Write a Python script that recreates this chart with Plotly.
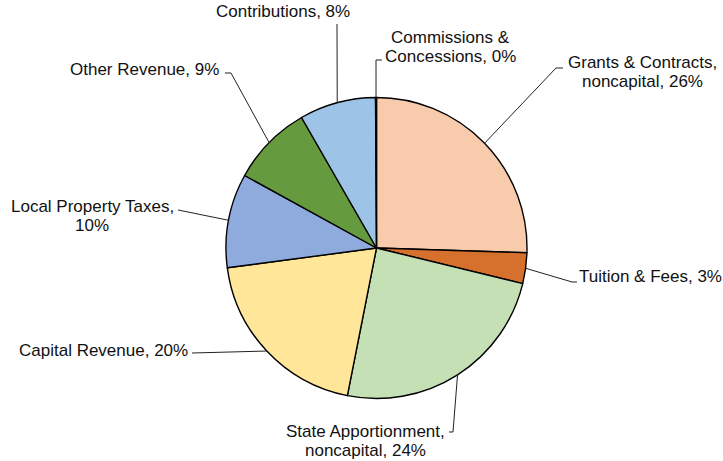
import math
import plotly.graph_objects as go

# ---- data ----
labels = ["Grants & Contracts, noncapital", "Tuition & Fees", "State Apportionment, noncapital",
          "Capital Revenue", "Local Property Taxes", "Other Revenue", "Contributions",
          "Commissions & Concessions"]
values = [25.5, 3.3, 24.3, 19.8, 10.1, 8.7, 8.2, 0.1]
label_lines = [["Grants & Contracts,", "noncapital, 26%"], ["Tuition & Fees, 3%"],
               ["State Apportionment,", "noncapital, 24%"], ["Capital Revenue, 20%"],
               ["Local Property Taxes,", "10%"], ["Other Revenue, 9%"], ["Contributions, 8%"],
               ["Commissions &", "Concessions, 0%"]]
colors = ["#F8CBAD", "#D5702D", "#C5E0B4", "#FFE699", "#8FAADC", "#659B3E", "#9DC3E6", "#4472C4"]

# ---- layout (pixels) ----
W, H = 723, 461
CX, CY, R = 376.5, 248, 150.5
LINE_GAP = 19.5
# label block centres (px)
text_pos = [(642, 72), (650, 276), (365, 441), (103, 350), (92, 216), (144, 70), (283, 12), (450, 47)]
# leader line start / elbow points (px)
leader_pts = [
    [(563, 68), (556, 68)],
    [(577, 282), (572, 282)],
    [(449, 432), (453, 432)],
    [(192, 353)],
    [(178, 210)],
    [(225, 73), (231, 73)],
    [(337, 24)],
    [(382, 60), (376, 60)],
]

def px(x):
    return x / W

def py(y):
    return 1 - y / H

fig = go.Figure()
fig.add_trace(go.Pie(
    labels=labels, values=values, sort=False, direction="clockwise", rotation=0,
    marker=dict(colors=colors, line=dict(color="black", width=1.4)),
    textinfo="none", hoverinfo="label+percent", showlegend=False,
    domain=dict(x=[px(CX - R), px(CX + R)], y=[py(CY + R), py(CY - R)]),
))

total = sum(values)
cum = 0
shapes = []
annotations = []
for i, v in enumerate(values):
    mid = (cum + v / 2) / total * 2 * math.pi
    cum += v
    ex = CX + R * math.sin(mid)
    ey = CY - R * math.cos(mid)
    pts = leader_pts[i] + [(ex, ey)]
    path = "M " + " L ".join(f"{px(x):.5f},{py(y):.5f}" for x, y in pts)
    shapes.append(dict(type="path", xref="paper", yref="paper", path=path,
                       line=dict(color="#222222", width=1)))
    tx, ty = text_pos[i]
    n = len(label_lines[i])
    for j, line in enumerate(label_lines[i]):
        yy = ty + (j - (n - 1) / 2) * LINE_GAP
        annotations.append(dict(x=px(tx), y=py(yy), xref="paper", yref="paper",
                                text=line, showarrow=False, xanchor="center",
                                yanchor="middle", align="center",
                                font=dict(family="Liberation Sans, Arial", size=17, color="#111111")))

fig.update_layout(
    width=W, height=H, margin=dict(l=0, r=0, t=0, b=0),
    paper_bgcolor="white", plot_bgcolor="white",
    shapes=shapes, annotations=annotations,
)
fig.write_html("out.html", config={"displayModeBar": False},
               post_script="document.body.style.margin='0';document.body.style.overflow='hidden';")
